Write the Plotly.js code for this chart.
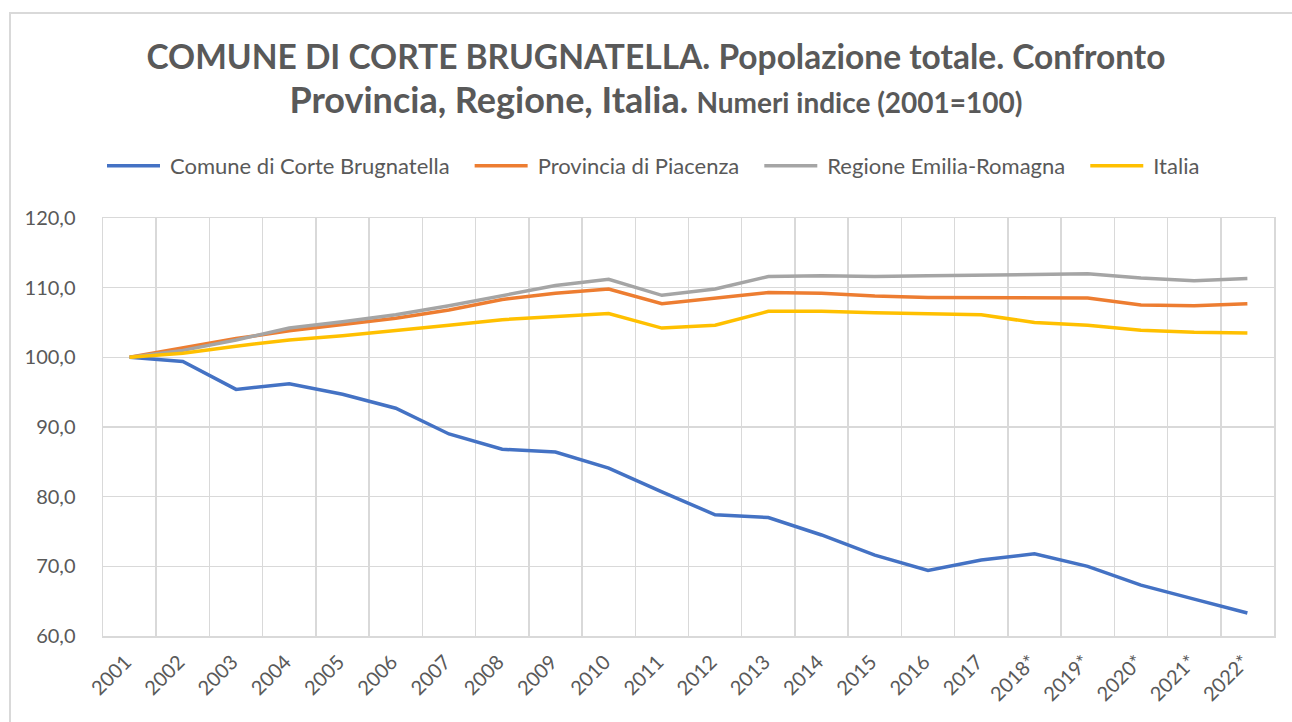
<!DOCTYPE html>
<html>
<head>
<meta charset="utf-8">
<script src="https://cdn.plot.ly/plotly-3.0.1.min.js"></script>
<style>
  html, body { margin: 0; padding: 0; background: #fff; overflow: hidden; }
  #wrap { position: relative; width: 1292px; height: 722px; overflow: hidden; }
  #chart { width: 1292px; height: 722px; }
  #frame { position: absolute; left: 9px; top: 12px; width: 1300px; height: 730px; border: 2px solid #d9d9d9; box-sizing: border-box; pointer-events: none; }
</style>
</head>
<body>
<div id="wrap">
  <div id="chart"></div>
  <div id="frame"></div>
</div>
<script>
const years = ["2001","2002","2003","2004","2005","2006","2007","2008","2009","2010","2011",
  "2012","2013","2014","2015","2016","2017","2018*","2019*","2020*","2021*","2022*"];

const comune = [100.0, 99.4, 95.4, 96.2, 94.7, 92.7, 89.0, 86.8, 86.4, 84.1, 80.7,
  77.4, 77.0, 74.5, 71.6, 69.4, 70.9, 71.8, 70.0, 67.3, 65.3, 63.3];
const provincia = [100.0, 101.3, 102.7, 103.8, 104.7, 105.6, 106.8, 108.3, 109.2, 109.8, 107.7,
  108.5, 109.3, 109.2, 108.8, 108.6, 108.6, 108.5, 108.5, 107.5, 107.4, 107.7];
const regione = [100.0, 101.0, 102.5, 104.2, 105.1, 106.1, 107.4, 108.9, 110.3, 111.2, 108.9,
  109.8, 111.6, 111.7, 111.6, 111.7, 111.8, 111.9, 112.0, 111.4, 111.0, 111.3];
const italia = [100.0, 100.6, 101.6, 102.5, 103.1, 103.8, 104.6, 105.4, 105.8, 106.3, 104.2,
  104.6, 106.6, 106.6, 106.4, 106.2, 106.1, 105.0, 104.6, 103.9, 103.6, 103.5];

const seriesNames = ["Comune di Corte Brugnatella", "Provincia di Piacenza", "Regione Emilia-Romagna", "Italia"];
const seriesColors = ["#4472C4", "#ED7D31", "#A5A5A5", "#FFC000"];
const seriesData = [comune, provincia, regione, italia];

const font = "Lato, 'Open Sans', sans-serif";
const txt = "#595959";

const traces = seriesData.map((d, i) => ({
  type: "scatter",
  mode: "lines",
  x: years,
  y: d,
  name: seriesNames[i],
  line: { color: seriesColors[i], width: 3.5 },
  hoverinfo: "x+y+name"
}));

const layout = {
  width: 1292,
  height: 722,
  paper_bgcolor: "#ffffff",
  plot_bgcolor: "#ffffff",
  separators: ",.",
  margin: { l: 103, r: 18, t: 218, b: 86 },
  title: {
    text: "<b>COMUNE DI CORTE BRUGNATELLA. Popolazione totale. Confronto<br><span style='font-size:36px'>Provincia, Regione, Italia.</span> <span style='font-size:28px'>Numeri indice (2001=100)</span></b>",
    font: { family: font, size: 33.5, color: txt },
    x: 0.5077,
    xanchor: "center",
    y: 0.904,
    yanchor: "top"
  },
  showlegend: true,
  legend: {
    orientation: "h",
    x: 0.5,
    xanchor: "center",
    y: 0.770,
    yref: "container",
    yanchor: "middle",
    font: { family: font, size: 22, color: txt },
    itemwidth: 55,
    tracegroupgap: 0,
    traceorder: "normal"
  },
  xaxis: {
    type: "category",
    range: [-0.5, years.length - 0.5],
    tickson: "boundaries",
    tickangle: -45,
    ticklabelshift: -4,
    ticklabelstandoff: 5,
    showgrid: true,
    gridcolor: "#d9d9d9",
    gridwidth: 1.5,
    showline: true,
    linecolor: "#d9d9d9",
    linewidth: 1.5,
    mirror: true,
    ticks: "",
    tickfont: { family: font, size: 20, color: txt },
    zeroline: false,
    fixedrange: true
  },
  yaxis: {
    range: [60, 120],
    dtick: 10,
    tick0: 60,
    tickformat: ".1f",
    showgrid: true,
    gridcolor: "#d9d9d9",
    gridwidth: 1.5,
    showline: true,
    linecolor: "#d9d9d9",
    linewidth: 1.5,
    mirror: true,
    ticks: "",
    ticklabelstandoff: 22,
    tickfont: { family: font, size: 20, color: txt },
    zeroline: false,
    fixedrange: true
  }
};

Plotly.newPlot("chart", traces, layout, { displayModeBar: false, staticPlot: true }).then(gd => {
  // Excel-style legend: longer line samples and wider spacing between entries
  const lg = gd.querySelector(".legend");
  lg.querySelectorAll("[clip-path]").forEach(el => el.removeAttribute("clip-path"));
  lg.querySelectorAll(".legendlines path").forEach(p => p.setAttribute("d", "M2,0h53"));
  lg.querySelectorAll(".traces").forEach((g, i) => {
    const t = g.getAttribute("transform") || "";
    const m = t.match(/translate\(([-\d.]+)[ ,]+([-\d.]+)\)/);
    if (m) g.setAttribute("transform", "translate(" + (parseFloat(m[1]) + i * 18) + "," + m[2] + ")");
  });
  const first = lg.querySelector(".legendlines path");
  if (first) {
    const dx = 107 - first.getBoundingClientRect().left;
    const t = lg.getAttribute("transform") || "";
    const m = t.match(/translate\(([-\d.]+)[ ,]+([-\d.]+)\)/);
    if (m) lg.setAttribute("transform", "translate(" + (parseFloat(m[1]) + dx) + "," + m[2] + ")");
  }
});
</script>
</body>
</html>
